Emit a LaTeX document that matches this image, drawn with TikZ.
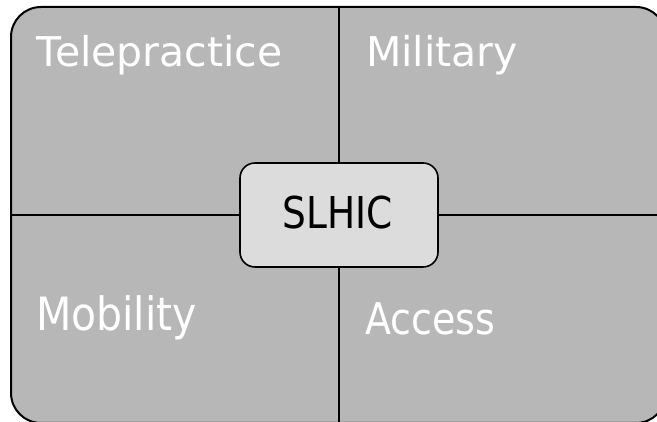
\documentclass[tikz,border=0pt]{standalone}
\usepackage{fontspec}
\setmainfont{DejaVu Sans}
\definecolor{quadgray}{HTML}{B7B7B7}
\definecolor{hubgray}{HTML}{DCDCDC}
\tikzset{
  frame/.style={draw=black, line width=2pt, fill=quadgray, rounded corners=30pt, rectangle, inner sep=0pt},
  hub/.style={draw=black, line width=1.6pt, fill=hubgray, rounded corners=15pt, rectangle, inner sep=0pt, minimum width=198pt, minimum height=104pt},
  divider/.style={draw=black, line width=1.6pt},
  quadlabel/.style={text=white, anchor=base west, inner sep=0pt, outer sep=0pt}
}
\begin{document}
\begin{tikzpicture}[x=1pt,y=1pt]
\clip (0,0) rectangle (657,422);
\fill[white] (0,0) rectangle (657,422);
\node[frame, minimum width=655pt, minimum height=416pt] (frame) at (338.5,207) {};
\node[hub] (hub) at (339,207) {};
\draw[divider] (hub.north) -- (hub.north |- frame.north);
\draw[divider] (hub.south) -- (hub.south |- frame.south);
\draw[divider] (hub.west) -- (hub.west -| frame.west);
\draw[divider] (hub.east) -- (hub.east -| frame.east);
\node[anchor=base, inner sep=0pt, yscale=1.17, transform shape, font=\fontsize{37.5}{44}\selectfont] (hubtext) at (338,193) {SLHIC};
\node[quadlabel, font=\fontsize{41}{48}\selectfont] (tele) at (37,355) {Telepractice};
\node[quadlabel, font=\fontsize{41}{48}\selectfont] (mil) at (366,355) {Military};
\node[quadlabel, yscale=1.12, transform shape, font=\fontsize{41}{48}\selectfont] (mob) at (36,91) {Mobility};
\node[quadlabel, yscale=1.15, transform shape, font=\fontsize{38}{44}\selectfont] (acc) at (365,87) {Access};
\end{tikzpicture}
\end{document}
